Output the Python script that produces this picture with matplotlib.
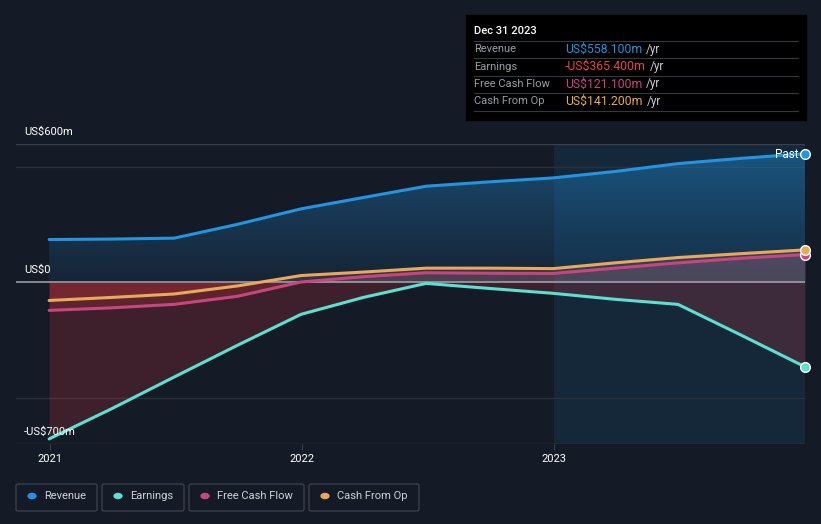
import matplotlib
matplotlib.use("Agg")
import matplotlib.pyplot as plt
import matplotlib.dates as mdates
from matplotlib.patches import FancyBboxPatch
import numpy as np
import pandas as pd

plt.rcParams['font.family'] = ['Roboto', 'DejaVu Sans']

# quarterly values, US$m
dates = pd.date_range("2020-12-31", "2023-12-31", freq="QE")
revenue = [186, 188, 192, 252, 319, 368, 417, 436, 453, 481, 515, 538, 558.1]
earnings = [-678, -548, -410, -272, -138, -65, -4, -26, -47, -73, -95, -229, -365.4]
fcf = [-121, -110, -95, -60, 2, 25, 42, 40, 39, 62, 85, 105, 121.1]
cfo = [-78, -65, -50, -15, 30, 45, 62, 62, 60, 85, 108, 125, 141.2]

names = ["Revenue", "Earnings", "Free Cash Flow", "Cash From Op"]
colors = ["#2394df", "#5ce0cf", "#c8467f", "#e8a95a"]
tip_values = ["US$558.100m", "-US$365.400m", "US$121.100m", "US$141.200m"]
tip_colors = ["#2394df", "#e64545", "#c8467f", "#e8a95a"]

bg = "#151b26"
fig = plt.figure(figsize=(8.21, 5.24), dpi=100, facecolor=bg)
ax = fig.add_axes([16/821, 80/524, (805-16)/821, 300/524])
ax.set_facecolor(bg)

x0 = pd.Timestamp("2020-11-13")
x1 = dates[-1]
past = pd.Timestamp("2023-01-01")

ax.axvspan(past, x1, color="#14283a", lw=0, zorder=0)

for y in [500, -500]:
    ax.axhline(y, color="#2a313c", lw=1, zorder=1)
ax.axhline(600, color="#3a404b", lw=1, zorder=1)
ax.axhline(-700, color="#3a404b", lw=1, zorder=1)

# revenue area with vertical gradient
poly = ax.fill_between(dates, revenue, 0, color="none", lw=0, zorder=2)
grad_v = np.linspace(0, 1, 128).reshape(-1, 1)
img = ax.imshow(grad_v, extent=[mdates.date2num(x0), mdates.date2num(x1), 0, 600],
                origin="lower", aspect="auto", zorder=2, interpolation="bilinear",
                cmap=matplotlib.colors.LinearSegmentedColormap.from_list("r", ["#1f6fb0", "#2394df"]),
                alpha=np.linspace(0.12, 0.45, 128).reshape(-1, 1))
img.set_clip_path(poly.get_paths()[0], transform=ax.transData)

ax.fill_between(dates, earnings, 0, where=[v < 0 for v in earnings], interpolate=True,
                color="#a8303a", alpha=0.28, lw=0, zorder=2)
for s in (fcf, cfo):
    ax.fill_between(dates, s, 0, where=[v < 0 for v in s], interpolate=True,
                    color="#c0303a", alpha=0.25, lw=0, zorder=2)
    ax.fill_between(dates, s, 0, where=[v >= 0 for v in s], interpolate=True,
                    color="#b07080", alpha=0.2, lw=0, zorder=2)

ax.axhline(0, color="#9a9ea6", lw=1.2, zorder=3)

for s, c in zip([revenue, earnings, fcf, cfo], colors):
    ax.plot(dates, s, color=c, lw=2.2, zorder=4, solid_capstyle="round")
    ax.plot(dates[-1], s[-1], "o", ms=7, mfc=c, mec="white", mew=1, zorder=5, clip_on=False)

ax.text(dates[-1] - pd.Timedelta(days=10), 553, "Past", color="white", fontsize=8.5,
        ha="right", va="center", zorder=6)

ax.set_xlim(x0, x1)
ax.set_ylim(-700, 600)
for sp in ax.spines.values():
    sp.set_visible(False)
ax.set_yticks([])
ax.set_xticks([pd.Timestamp("2021-01-01"), pd.Timestamp("2022-01-01"), past])
ax.set_xticklabels(["2021", "2022", "2023"], color="white", fontsize=8)
ax.tick_params(axis="x", length=4, color="#3a404b", pad=3)

for label, y in [("US$600m", 132), ("US$0", 270), ("-US$700m", 432)]:
    fig.text(24/821, 1 - y/524, label, color="white", fontsize=8, va="center")

# tooltip box
fig.patches.append(plt.Rectangle((466/821, 1 - 120/524), 340/821, 105/524,
                                 transform=fig.transFigure, color="#000000", zorder=10))
fig.text(474/821, 1 - 31/524, "Dec 31 2023", color="white", fontsize=8,
         fontweight="medium", va="center", zorder=11)
renderer = fig.canvas.get_renderer()
for i, (n, v, c) in enumerate(zip(names, tip_values, tip_colors)):
    y = 49 + 17.5 * i
    fig.lines.append(plt.Line2D([474/821, 798/821], [1 - (y - 8.5)/524] * 2,
                                transform=fig.transFigure, color="#333740", lw=0.8, zorder=11))
    fig.text(474/821, 1 - y/524, n, color="#9a9ea6", fontsize=8, va="center", zorder=11)
    t = fig.text(565/821, 1 - y/524, v, color=c, fontsize=8.8, va="center", zorder=11)
    bb = t.get_window_extent(renderer)
    fig.text((bb.x1 + 4)/821, 1 - y/524, "/yr", color="#c8cad0",
             fontsize=8.5, va="center", zorder=11)
fig.lines.append(plt.Line2D([474/821, 798/821], [1 - 111/524] * 2,
                            transform=fig.transFigure, color="#333740", lw=0.8, zorder=11))

# legend boxes
boxes = [(16, 97), (102, 184), (189, 304), (309, 419)]
for (b0, b1), n, c in zip(boxes, names, colors):
    fig.patches.append(FancyBboxPatch((b0/821, 1 - 511/524), (b1 - b0)/821, 27/524,
                                      boxstyle="round,pad=0,rounding_size=0.003",
                                      transform=fig.transFigure, fc="none",
                                      ec="#3a404b", lw=1))
    fig.patches.append(plt.Circle(((b0 + 16)/821, 1 - 496/524), 0.0048,
                                  transform=fig.transFigure, color=c))
    fig.text((b0 + 28)/821, 1 - 496/524, n, color="#d0d2d8", fontsize=8, va="center")

fig.savefig("out.png", dpi=100, facecolor=bg)
